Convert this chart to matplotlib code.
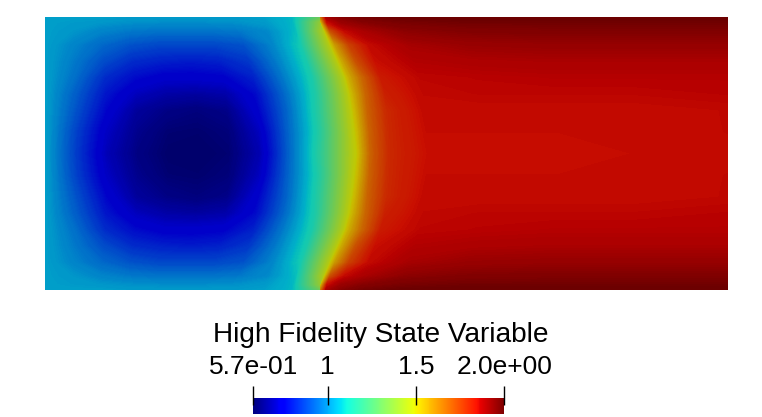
import numpy as np
import matplotlib
matplotlib.use("Agg")
import matplotlib.pyplot as plt
from matplotlib.colors import LinearSegmentedColormap, Normalize
from matplotlib.cm import ScalarMappable

title = "High Fidelity State Variable"
vmin = 0.57
vmax = 2.0
tick_values = [0.57, 1.0, 1.5, 2.0]
tick_labels = ["5.7e-01", "1", "1.5", "2.0e+00"]

# rows from the top edge down to the middle, the lower half mirrors these
row_frac = [0.0, 0.02, 0.05, 0.10, 0.16, 0.22, 0.28, 0.34, 0.42, 0.50]
front_x = [320, 321, 324, 329, 336, 343, 347, 349, 351, 352]

# stations between left edge and front, and between front and right edge
left_frac = [0.0, 0.1, 0.2, 0.3, 0.4, 0.5, 0.6, 0.7, 0.8, 0.9, 1.0]
right_frac = [0.0, 0.015, 0.05, 0.1, 0.2, 0.35, 0.55, 0.75, 1.0]

left_values = [
    [1.03, 1.03, 1.03, 1.02, 1.02, 1.02, 1.02, 1.02, 1.03, 1.07, 1.30],
    [1.03, 1.02, 1.01, 1.00, 0.995, 0.99, 0.995, 1.00, 1.02, 1.07, 1.40],
    [1.03, 1.01, 0.98, 0.96, 0.95, 0.95, 0.95, 0.96, 0.99, 1.08, 1.46],
    [1.03, 0.98, 0.93, 0.89, 0.87, 0.87, 0.87, 0.89, 0.98, 1.11, 1.46],
    [1.03, 0.96, 0.88, 0.82, 0.80, 0.79, 0.80, 0.84, 0.97, 1.12, 1.46],
    [1.03, 0.94, 0.82, 0.76, 0.73, 0.73, 0.74, 0.80, 0.96, 1.13, 1.46],
    [1.03, 0.91, 0.78, 0.70, 0.665, 0.655, 0.67, 0.76, 0.94, 1.14, 1.46],
    [1.03, 0.89, 0.75, 0.65, 0.615, 0.60, 0.62, 0.74, 0.93, 1.15, 1.46],
    [1.03, 0.86, 0.71, 0.625, 0.585, 0.58, 0.595, 0.70, 0.93, 1.15, 1.46],
    [1.03, 0.85, 0.69, 0.61, 0.575, 0.57, 0.585, 0.68, 0.93, 1.17, 1.46],
]
right_values = [
    [1.60, 1.90, 1.95, 1.98, 1.995, 2.00, 2.00, 2.00, 2.00],
    [1.50, 1.85, 1.92, 1.95, 1.975, 1.985, 1.985, 1.985, 1.985],
    [1.46, 1.72, 1.86, 1.90, 1.945, 1.96, 1.965, 1.965, 1.965],
    [1.46, 1.58, 1.75, 1.86, 1.905, 1.925, 1.93, 1.93, 1.93],
    [1.46, 1.55, 1.72, 1.85, 1.885, 1.895, 1.90, 1.90, 1.90],
    [1.46, 1.54, 1.68, 1.83, 1.87, 1.875, 1.88, 1.88, 1.88],
    [1.46, 1.53, 1.685, 1.815, 1.865, 1.87, 1.87, 1.87, 1.875],
    [1.46, 1.52, 1.69, 1.80, 1.86, 1.86, 1.86, 1.86, 1.865],
    [1.46, 1.51, 1.69, 1.80, 1.855, 1.855, 1.855, 1.855, 1.865],
    [1.46, 1.50, 1.69, 1.80, 1.85, 1.85, 1.85, 1.855, 1.86],
]

plt.rcParams['font.family'] = ['Liberation Sans', 'DejaVu Sans']

W, H = 762.0, 417.0
LEFT, RIGHT, TOP, BOTTOM = 45.0, 728.0, 17.0, 290.0

fig = plt.figure(figsize=(W / 100, H / 100), dpi=100)

def px_axes(x0, y0, x1, y1):
    return fig.add_axes([x0 / W, 1 - y1 / H, (x1 - x0) / W, (y1 - y0) / H])

# the field is drawn with lighting, so it is darker than the colour bar
base = plt.get_cmap("jet")(np.linspace(0, 1, 256))
base[:, :3] *= 0.79
lit_jet = LinearSegmentedColormap.from_list("lit_jet", base)

rows = np.array(row_frac + [1 - f for f in row_frac[-2::-1]])
front = np.array(front_x + front_x[-2::-1], dtype=float)
zl = np.array(left_values + left_values[-2::-1])
zr = np.array(right_values + right_values[-2::-1])
z = np.hstack([zl, zr])

fl = np.array(left_frac)
fr = np.array(right_frac)
xgrid = np.hstack([
    LEFT + np.outer(front - LEFT, fl),
    front[:, None] + np.outer(RIGHT - front, fr),
])
ygrid = np.repeat(rows[:, None], z.shape[1], axis=1)

ax = px_axes(LEFT, TOP, RIGHT, BOTTOM)
ax.contourf(xgrid, ygrid, z, levels=np.linspace(vmin - 0.01, vmax + 0.01, 300),
            cmap=lit_jet, antialiased=False)
ax.set_xlim(LEFT, RIGHT)
ax.set_ylim(1, 0)
ax.axis("off")

# colour bar
cax = px_axes(253, 398, 504, 414)
cb = fig.colorbar(ScalarMappable(Normalize(vmin, vmax), "jet"), cax=cax,
                  orientation="horizontal")
cb.outline.set_visible(False)
cb.set_ticks([])
cax.vlines(tick_values, 0.56, 1.75, color="black", lw=1,
           transform=cax.get_xaxis_transform(), clip_on=False)

fig.text(380.5 / W, 1 - 335.5 / H, title, fontsize=20.2, ha="center", va="center")
label_x = [253.5, 327, 416, 504.5]
for x, lab in zip(label_x, tick_labels):
    fig.text(x / W, 1 - 366.5 / H, lab, fontsize=19, ha="center", va="center")

fig.savefig("out.png", dpi=100)
